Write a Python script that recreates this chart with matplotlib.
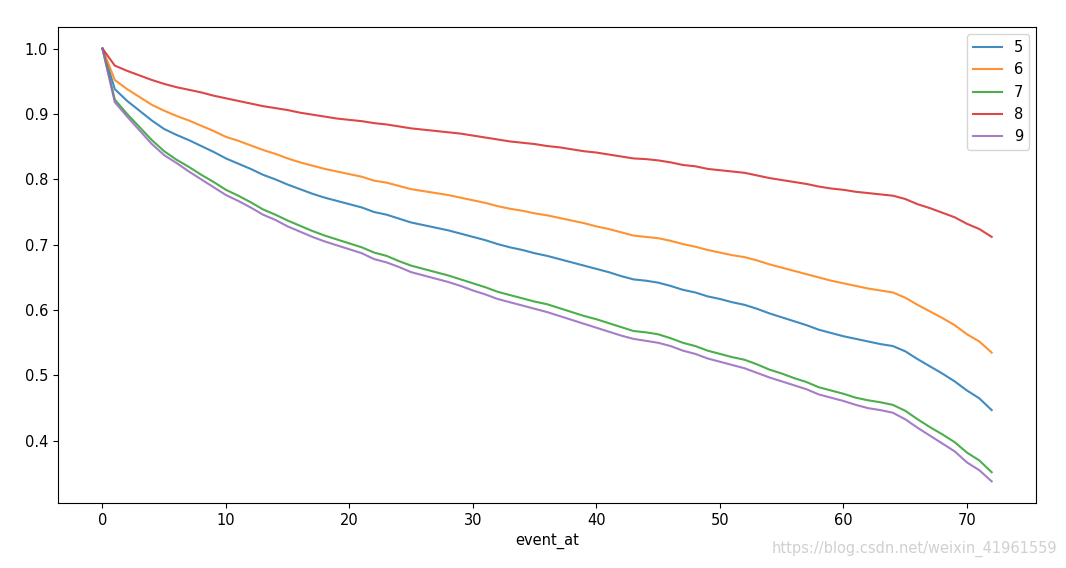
import matplotlib
matplotlib.use("Agg")
from matplotlib import pyplot as plt
import numpy as np

event_at = np.arange(0, 73)

s5 = [1.000, 0.938, 0.920, 0.905, 0.890, 0.877, 0.868, 0.860, 0.851, 0.842,
      0.832, 0.824, 0.816, 0.807, 0.800, 0.792, 0.785, 0.778, 0.772, 0.767,
      0.762, 0.757, 0.750, 0.746, 0.740, 0.734, 0.730, 0.726, 0.722, 0.717,
      0.712, 0.707, 0.701, 0.696, 0.692, 0.687, 0.683, 0.678, 0.673, 0.668,
      0.663, 0.658, 0.652, 0.647, 0.645, 0.642, 0.637, 0.631, 0.627, 0.621,
      0.617, 0.612, 0.608, 0.602, 0.595, 0.589, 0.583, 0.577, 0.570, 0.565,
      0.560, 0.556, 0.552, 0.548, 0.545, 0.537, 0.525, 0.514, 0.503, 0.491,
      0.477, 0.465, 0.447]

s6 = [1.000, 0.952, 0.938, 0.926, 0.914, 0.905, 0.897, 0.890, 0.882, 0.874,
      0.865, 0.859, 0.852, 0.845, 0.839, 0.832, 0.826, 0.821, 0.816, 0.812,
      0.808, 0.804, 0.798, 0.795, 0.790, 0.785, 0.782, 0.779, 0.776, 0.772,
      0.768, 0.764, 0.759, 0.755, 0.752, 0.748, 0.745, 0.741, 0.737, 0.733,
      0.728, 0.724, 0.719, 0.714, 0.712, 0.710, 0.706, 0.701, 0.697, 0.692,
      0.688, 0.684, 0.681, 0.676, 0.670, 0.665, 0.660, 0.655, 0.650, 0.645,
      0.641, 0.637, 0.633, 0.630, 0.627, 0.619, 0.608, 0.598, 0.588, 0.577,
      0.563, 0.552, 0.535]

s7 = [1.000, 0.922, 0.900, 0.880, 0.860, 0.843, 0.830, 0.819, 0.807, 0.796,
      0.784, 0.775, 0.765, 0.754, 0.746, 0.737, 0.729, 0.721, 0.714, 0.708,
      0.702, 0.696, 0.688, 0.683, 0.675, 0.668, 0.663, 0.658, 0.653, 0.647,
      0.641, 0.635, 0.628, 0.623, 0.618, 0.613, 0.609, 0.603, 0.597, 0.591,
      0.586, 0.580, 0.574, 0.568, 0.566, 0.563, 0.557, 0.550, 0.545, 0.538,
      0.533, 0.528, 0.524, 0.517, 0.509, 0.503, 0.496, 0.490, 0.482, 0.477,
      0.472, 0.466, 0.462, 0.459, 0.455, 0.446, 0.433, 0.421, 0.410, 0.398,
      0.382, 0.370, 0.352]

s8 = [1.000, 0.974, 0.966, 0.959, 0.952, 0.946, 0.941, 0.937, 0.933, 0.928,
      0.924, 0.920, 0.916, 0.912, 0.909, 0.906, 0.902, 0.899, 0.896, 0.893,
      0.891, 0.889, 0.886, 0.884, 0.881, 0.878, 0.876, 0.874, 0.872, 0.870,
      0.867, 0.864, 0.861, 0.858, 0.856, 0.854, 0.851, 0.849, 0.846, 0.843,
      0.841, 0.838, 0.835, 0.832, 0.831, 0.829, 0.826, 0.822, 0.820, 0.816,
      0.814, 0.812, 0.810, 0.806, 0.802, 0.799, 0.796, 0.793, 0.789, 0.786,
      0.784, 0.781, 0.779, 0.777, 0.775, 0.770, 0.762, 0.756, 0.749, 0.742,
      0.732, 0.724, 0.712]

s9 = [1.000, 0.918, 0.896, 0.875, 0.854, 0.837, 0.825, 0.812, 0.800, 0.788,
      0.776, 0.767, 0.757, 0.746, 0.738, 0.728, 0.720, 0.712, 0.705, 0.699,
      0.693, 0.687, 0.678, 0.673, 0.666, 0.658, 0.653, 0.648, 0.643, 0.637,
      0.630, 0.624, 0.617, 0.612, 0.607, 0.602, 0.597, 0.591, 0.585, 0.579,
      0.573, 0.567, 0.561, 0.556, 0.553, 0.550, 0.545, 0.538, 0.533, 0.526,
      0.521, 0.516, 0.511, 0.504, 0.497, 0.491, 0.485, 0.479, 0.471, 0.466,
      0.461, 0.455, 0.450, 0.447, 0.443, 0.433, 0.420, 0.408, 0.396, 0.384,
      0.367, 0.355, 0.338]

labels = ['5', '6', '7', '8', '9']
series = [s5, s6, s7, s8, s9]

plt.rcParams['font.size'] = 10.5

fig = plt.figure(figsize=(10.66, 5.68), dpi=100)
ax = fig.add_axes([0.0544, 0.1144, 0.9176, 0.8381])
for lab, ys in zip(labels, series):
    ax.plot(event_at, ys, label=lab, linewidth=1.5, alpha=0.85)
ax.legend(loc='upper right')
ax.set_xlabel('event_at')

fig.text(0.992, 0.02, 'https://blog.csdn.net/weixin_41961559', ha='right', va='bottom',
         color='#d0d0d0', fontsize=10.5)

fig.savefig('out.png', dpi=100)
